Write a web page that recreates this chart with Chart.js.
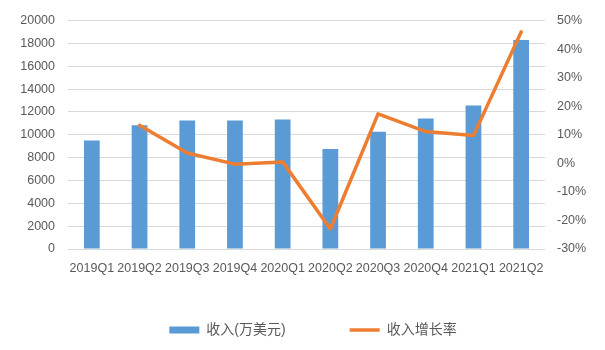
<!DOCTYPE html>
<html><head><meta charset="utf-8">
<script src="https://cdn.jsdelivr.net/npm/chart.js@4"></script>
<style>html,body{margin:0;padding:0;background:#fff}#wrap{width:605px;height:350px}</style>
</head><body><div id="wrap"><canvas id="c" width="605" height="350"></canvas></div>
<script>
const categories = ['2019Q1','2019Q2','2019Q3','2019Q4','2020Q1','2020Q2','2020Q3','2020Q4','2021Q1','2021Q2'];
const revenue = [9500, 10830, 11240, 11240, 11330, 8750, 10260, 11420, 12550, 18290];
const growth = [null, 13.3, 3.6, -0.3, 0.5, -23, 17.3, 11.1, 9.7, 46];
const seriesNames = ['收入(万美元)', '收入增长率'];
const leftTicks = {min: 0, max: 20000, step: 2000};
const rightTicks = {min: -30, max: 50, step: 10};

const BLUE = '#5B9BD5', ORANGE = '#ED7D31', TXT = '#595959', GRID = '#D9D9D9';
const FONT = "'Liberation Sans', 'Noto Sans CJK SC', sans-serif";

new Chart(document.getElementById('c'), {
  data: {
    labels: categories,
    datasets: [
      {type: 'bar', label: seriesNames[0], data: revenue, backgroundColor: BLUE, yAxisID: 'y',
       categoryPercentage: 1, barPercentage: 0.33, order: 1},
      {type: 'line', label: seriesNames[1], data: growth, borderColor: ORANGE, backgroundColor: ORANGE,
       borderWidth: 3.5, pointRadius: 0, tension: 0, yAxisID: 'y1', order: 0,
       borderJoinStyle: 'round', borderCapStyle: 'round', spanGaps: false}
    ]
  },
  options: {
    responsive: false, animation: false, devicePixelRatio: 1,
    layout: {padding: {top: 19, left: 0, right: -21, bottom: 3}},
    plugins: {
      tooltip: {enabled: false},
      legend: {
        position: 'bottom', align: 'center',
        labels: {
          padding: 13.5, usePointStyle: true, pointStyleWidth: 30, boxHeight: 7,
          color: TXT, font: {family: FONT, size: 14},
          generateLabels: () => [
            {text: seriesNames[0], fillStyle: BLUE, strokeStyle: BLUE, lineWidth: 0, pointStyle: 'rect', fontColor: TXT, datasetIndex: 0, hidden: false},
            {text: '', fillStyle: 'rgba(0,0,0,0)', strokeStyle: 'rgba(0,0,0,0)', lineWidth: 0, pointStyle: 'rect', fontColor: TXT, hidden: false},
            {text: seriesNames[1], fillStyle: ORANGE, strokeStyle: ORANGE, lineWidth: 3.5, pointStyle: 'line', fontColor: TXT, datasetIndex: 1, hidden: false}
          ]
        }
      }
    },
    scales: {
      x: {
        grid: {display: false, drawTicks: false}, border: {display: false},
        ticks: {color: TXT, font: {family: FONT, size: 12.5}, padding: 12, maxRotation: 0, autoSkip: false},
        afterFit: s => { s.height = 60.5; }
      },
      y: {
        position: 'left', min: leftTicks.min, max: leftTicks.max,
        grid: {color: GRID, lineWidth: 1, drawTicks: false}, border: {display: false},
        ticks: {stepSize: leftTicks.step, color: TXT, font: {family: FONT, size: 12.5}, padding: 13,
                callback: v => String(v)},
        afterFit: s => { s.width = 68; }
      },
      y1: {
        position: 'right', min: rightTicks.min, max: rightTicks.max,
        grid: {display: false, drawTicks: false}, border: {display: false},
        ticks: {stepSize: rightTicks.step, color: TXT, font: {family: FONT, size: 12.5}, padding: 12,
                callback: v => v + '%'},
        afterFit: s => { s.width = 81; }
      }
    }
  }
});
</script></body></html>
